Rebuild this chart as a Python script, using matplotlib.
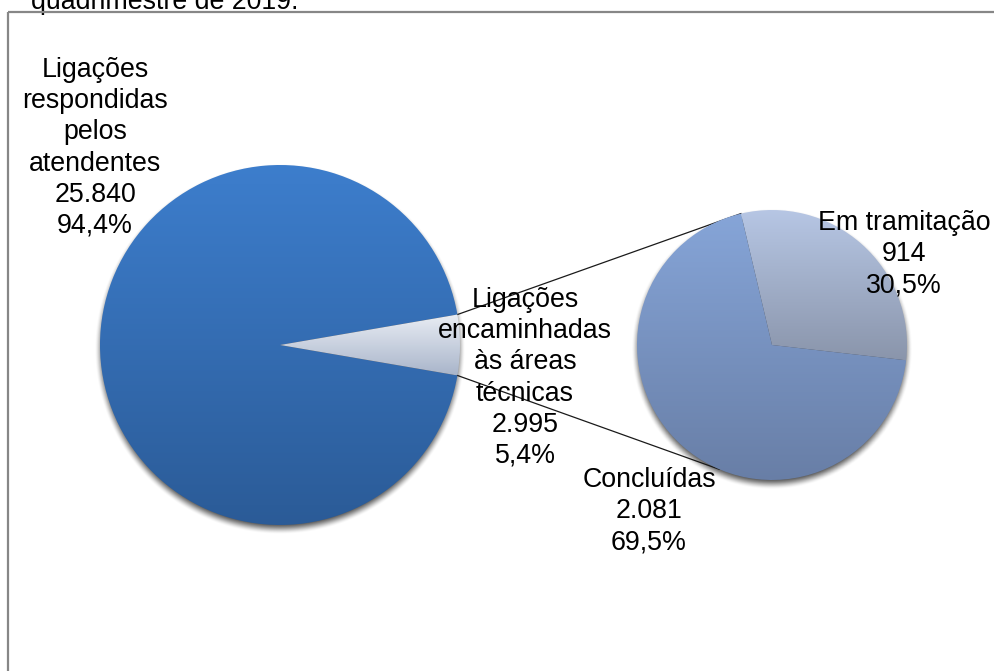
import numpy as np
import matplotlib.pyplot as plt
from matplotlib.colors import LinearSegmentedColormap, to_rgb

W, H = 995, 671

# first pie: all calls received
main_names = ["Ligações\nrespondidas\npelos\natendentes",
              "Ligações\nencaminhadas\nàs áreas\ntécnicas"]
main_counts = ["25.840", "2.995"]
main_pct = [94.4, 5.4]

# second pie: calls forwarded to the technical areas
sub_names = ["Em tramitação", "Concluídas"]
sub_counts = ["914", "2.081"]
sub_pct = [30.5, 69.5]

plt.rcParams['font.family'] = ['Liberation Sans', 'DejaVu Sans']
FS = 19.3

fig = plt.figure(figsize=(W / 100, H / 100), dpi=100)
ax = fig.add_axes([0, 0, 1, 1])

# layout in pixel units (y measured upward)
main_c, main_r = (280, H - 345), 180
sub_c, sub_r = (772, H - 345), 135
sub_start = -6.5
low_link_angle = 247


def pct_label(v):
    return f"{v:.1f}%".replace(".", ",")


def shadow(center, r, dy=4, blur=6):
    x0, x1 = center[0] - r - 20, center[0] + r + 20
    y0, y1 = center[1] - r - 20, center[1] + r + 20
    xx, yy = np.meshgrid(np.linspace(x0, x1, 400), np.linspace(y0, y1, 400))
    d = np.hypot(xx - center[0], yy - (center[1] - dy))
    a = np.clip((r + blur - d) / (2 * blur), 0, 1)
    a = a * a * (3 - 2 * a) * 0.7
    img = np.zeros(xx.shape + (4,))
    img[..., 3] = a
    ax.imshow(img, extent=(x0, x1, y0, y1), origin='lower',
              interpolation='bilinear', zorder=0.5)


def fill_gradient(wedge, top, bottom):
    v = wedge.get_path().vertices
    x0, x1 = v[:, 0].min(), v[:, 0].max()
    y0, y1 = v[:, 1].min(), v[:, 1].max()
    cmap = LinearSegmentedColormap.from_list("g", [to_rgb(bottom), to_rgb(top)])
    grad = np.linspace(0, 1, 256).reshape(-1, 1)
    im = ax.imshow(grad, cmap=cmap, extent=(x0, x1, y0, y1), origin='lower',
                   aspect='auto', interpolation='bilinear', zorder=2)
    im.set_clip_path(wedge)
    wedge.set_facecolor('none')


shadow(main_c, main_r)
shadow(sub_c, sub_r)

# small slice is centred on the right-hand side of the first pie
half = main_pct[1] / sum(main_pct) * 180
main_w, _ = ax.pie(main_pct, center=main_c, radius=main_r, startangle=half,
                   wedgeprops=dict(linewidth=0))
sub_w, _ = ax.pie(sub_pct, center=sub_c, radius=sub_r, startangle=sub_start,
                  wedgeprops=dict(linewidth=0))

fill_gradient(main_w[0], "#3d7ecd", "#2b5b97")
fill_gradient(main_w[1], "#e9edf4", "#a9b5ca")
fill_gradient(sub_w[0], "#b7c7e5", "#8a95ab")
fill_gradient(sub_w[1], "#86a5d8", "#687ea6")

# connector lines between the split slice and the second pie
a_top = np.radians(half)
a_bot = np.radians(-half)
b_top = np.radians(sub_start + sub_pct[0] / sum(sub_pct) * 360)
b_bot = np.radians(low_link_angle)
for a, b in [(a_top, b_top), (a_bot, b_bot)]:
    p = (main_c[0] + main_r * np.cos(a), main_c[1] + main_r * np.sin(a))
    q = (sub_c[0] + sub_r * np.cos(b), sub_c[1] + sub_r * np.sin(b))
    ax.plot([p[0], q[0]], [p[1], q[1]], color="#1a1a1a", lw=0.9, zorder=1.5)

# data labels
lab_kw = dict(fontsize=FS, ha='center', va='center', multialignment='center',
              linespacing=1.26, color='black', zorder=5)
main_pos = [(95, H - 148), (525, H - 378)]
for name, cnt, pct, pos in zip(main_names, main_counts, main_pct, main_pos):
    ax.text(*pos, f"{name}\n{cnt}\n{pct_label(pct)}", **lab_kw)
sub_pos = [(904, H - 254), (649, H - 511)]
for name, cnt, pct, pos in zip(sub_names, sub_counts, sub_pct, sub_pos):
    ax.text(*pos, f"{name}\n{cnt}\n{pct_label(pct)}", **lab_kw)

# caption line above the chart box (cut by the page edge)
ax.text(31, H - 9, "quadrimestre de 2019.", fontsize=FS, va='baseline',
        ha='left', color='black')

# chart frame
ax.plot([8, 8], [H - 12, -10], color="#878787", lw=1.6, zorder=6,
        solid_capstyle='butt')
ax.plot([8, W + 10], [H - 12, H - 12], color="#878787", lw=1.6, zorder=6,
        solid_capstyle='butt')

ax.set_xlim(0, W)
ax.set_ylim(0, H)
ax.set_aspect('auto')
ax.axis('off')

fig.savefig("out.png", dpi=100)
